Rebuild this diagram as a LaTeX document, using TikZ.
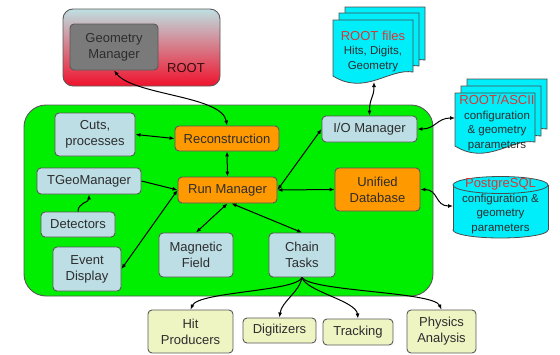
\documentclass[tikz,border=0pt]{standalone}
\usepackage{fontspec}
\setmainfont{Liberation Sans}
\usetikzlibrary{arrows.meta}

\definecolor{boxblue}{RGB}{188,222,228}
\definecolor{boxorange}{RGB}{255,153,0}
\definecolor{boxyellow}{RGB}{238,245,195}
\definecolor{geogray}{RGB}{122,122,122}
\definecolor{framegreen}{RGB}{0,238,0}
\definecolor{filecyan}{RGB}{0,238,250}
\definecolor{rootblue}{RGB}{190,224,226}
\definecolor{rootred}{RGB}{240,18,44}
\definecolor{titlered}{RGB}{215,55,55}
\definecolor{textgray}{RGB}{45,45,45}
\definecolor{rootlabelcol}{RGB}{55,12,16}

% page with a wavy foot: left, top, right, bottom
\newcommand{\docpage}[4]{\filldraw[filepage] (#1,#2) -- (#3,#2) -- (#3,{#4-4}) .. controls ({#3-24},{#4-8}) and ({#1+32},{#4+20}) .. (#1,#4) -- cycle;}

\tikzset{
  box/.style={draw=black!65, line width=0.9pt, rounded corners=4pt, text=textgray, align=center, inner sep=0pt, font=\fontsize{13}{16}\selectfont},
  bluebox/.style={box, fill=boxblue},
  orangebox/.style={box, fill=boxorange},
  taskbox/.style={box, fill=boxyellow},
  filepage/.style={fill=filecyan, draw=black!70, line width=0.8pt},
  filetext/.style={align=center, text=textgray, inner sep=0pt, font=\fontsize{11.5}{14.5}\selectfont},
  link/.style={line width=1pt, {Latex[length=5pt,width=4pt]}-{Latex[length=5pt,width=4pt]}},
  feed/.style={line width=1pt, -{Latex[length=5pt,width=4pt]}}
}

\begin{document}
\begin{tikzpicture}[x=1pt, y=-1pt]
\useasboundingbox (0,0) rectangle (560,354);
% ROOT block
\node[draw=black!65, line width=0.9pt, rounded corners=10pt, top color=rootblue, middle color=rootblue!70!rootred, bottom color=rootred, minimum width=157pt, minimum height=77pt] (root) at (141.5,47.5) {};
\node[box, fill=geogray, minimum width=88pt, minimum height=46pt] (geo) at (114,47) {Geometry\\Manager};
\node[text=rootlabelcol, font=\fontsize{13}{16}\selectfont] (rootlabel) at (186,68) {ROOT};

% framework
\node[draw=black!65, line width=0.9pt, fill=framegreen, rounded corners=22pt, minimum width=409pt, minimum height=191pt] (frame) at (228.5,200.5) {};
\node[bluebox, minimum width=80pt, minimum height=43pt] (cuts) at (95,134.5) {Cuts,\\processes};
\node[orangebox, minimum width=104pt, minimum height=25pt] (reco) at (227,138.5) {Reconstruction};
\node[bluebox, minimum width=95pt, minimum height=26pt] (io) at (369.5,129) {I/O Manager};
\node[bluebox, minimum width=104pt, minimum height=26pt] (tgeo) at (89,181) {TGeoManager};
\node[orangebox, minimum width=99pt, minimum height=26pt] (run) at (227.5,190) {Run Manager};
\node[orangebox, minimum width=85pt, minimum height=43pt] (udb) at (377.5,189.5) {Unified\\Database};
\node[bluebox, minimum width=74pt, minimum height=25pt] (det) at (78,224.5) {Detectors};
\node[bluebox, minimum width=68pt, minimum height=44pt] (evd) at (87,269) {Event\\Display};
\node[bluebox, minimum width=74pt, minimum height=44pt] (mag) at (196,255) {Magnetic\\Field};
\node[bluebox, minimum width=66pt, minimum height=44pt] (chain) at (302,255) {Chain\\Tasks};

% tasks
\node[taskbox, minimum width=85pt, minimum height=43pt] (hit) at (190.5,331.5) {Hit\\Producers};
\node[taskbox, minimum width=73pt, minimum height=25pt] (digi) at (279.5,330.5) {Digitizers};
\node[taskbox, minimum width=70pt, minimum height=26pt] (track) at (358,332) {Tracking};
\node[taskbox, minimum width=69pt, minimum height=43pt] (phys) at (441.5,331.5) {Physics\\Analysis};

% files
\docpage{345}{7}{425}{64}
\docpage{339}{13}{419}{70}
\docpage{333}{20}{413}{76}
\node[filetext] (rootfiles) at (373,51) {{\color{titlered}\fontsize{13}{15}\selectfont ROOT files}\\Hits, Digits,\\Geometry};
\coordinate (rootfiles-foot) at (374,82);
\docpage{467}{79}{547}{133}
\docpage{461}{86}{541}{140}
\docpage{455}{93}{535}{146}
\node[filetext] (ascii) at (497,123) {{\color{titlered}\fontsize{13}{15}\selectfont ROOT/ASCII}\\configuration\\\& geometry\\parameters};
\coordinate (ascii-side) at (455,118);

% database
\filldraw[filepage] (500.5,230) ellipse [x radius=47.5pt, y radius=8pt];
\fill[filecyan] (453,185) rectangle (548,230);
\draw[black!70, line width=0.8pt] (453,185) -- (453,230) (548,185) -- (548,230);
\filldraw[filepage] (500.5,185) ellipse [x radius=47.5pt, y radius=8.5pt];
\node[filetext] (pgsql) at (500.5,206) {{\color{titlered}\fontsize{13}{15}\selectfont PostgreSQL}\\configuration \&\\geometry\\parameters};
\coordinate (pgsql-side) at (453,206);

% connectors
\draw[link] (geo.south) .. controls +(20,25) and +(-5,-30) .. (reco.north);
\draw[link] (cuts.east) -- (reco.west);
\draw[link] (reco.south) -- (run.north);
\draw[feed] (tgeo.east) -- (run.west);
\draw[feed] (det.north) .. controls +(0,-9) and +(0,8) .. (tgeo.south);
\draw[link] (run.west) -- (evd.east);
\draw[link] (run.south) -- (mag.north);
\draw[link] ([xshift=4pt]run.south) -- (chain.north);
\draw[link] (run.east) -- (io.west);
\draw[link] (run.east) -- (udb.west);
\draw[link] (io.north) .. controls +(0,-18) and +(0,16) .. (rootfiles-foot);
\draw[link] (io.east) .. controls +(18,0) and +(-18,0) .. (ascii-side);
\draw[link] (udb.east) .. controls +(18,0) and +(-18,0) .. (pgsql-side);
\draw[feed] (chain.south) .. controls +(-5,14) and +(8,-18) .. (hit.north);
\draw[feed] (chain.south) .. controls +(-2,14) and +(2,-16) .. (digi.north);
\draw[feed] (chain.south) .. controls +(4,14) and +(-2,-18) .. (track.north);
\draw[feed] (chain.south) .. controls +(8,14) and +(-8,-18) .. (phys.north);
\end{tikzpicture}
\end{document}
